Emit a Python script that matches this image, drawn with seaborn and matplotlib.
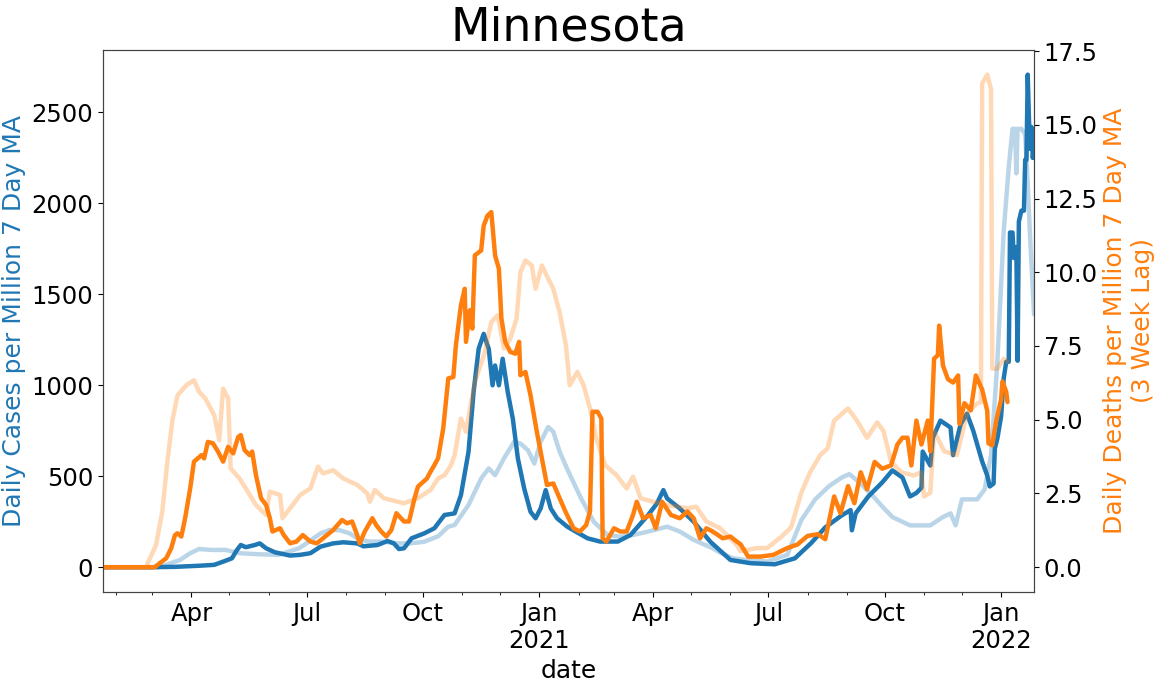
import numpy as np
import pandas as pd
import matplotlib
matplotlib.use("Agg")
import matplotlib.pyplot as plt
import matplotlib.dates as mdates
from matplotlib.ticker import FuncFormatter
import seaborn as sns

# ---------------- data ----------------
mn_case_dates = [
    "2020-01-22", "2020-02-28", "2020-03-19", "2020-04-07", "2020-04-19", "2020-04-27",
    "2020-05-03", "2020-05-07", "2020-05-10", "2020-05-14", "2020-05-21", "2020-05-25",
    "2020-05-30", "2020-06-06", "2020-06-18", "2020-06-26", "2020-07-04", "2020-07-12",
    "2020-07-22", "2020-07-30", "2020-08-10", "2020-08-15", "2020-08-26", "2020-09-03",
    "2020-09-08", "2020-09-12", "2020-09-16", "2020-09-22", "2020-10-02", "2020-10-10",
    "2020-10-18", "2020-10-26", "2020-10-31", "2020-11-06", "2020-11-10", "2020-11-14",
    "2020-11-18", "2020-11-22", "2020-11-25", "2020-11-27", "2020-11-30", "2020-12-03",
    "2020-12-07", "2020-12-11", "2020-12-15", "2020-12-20", "2020-12-25", "2020-12-29",
    "2021-01-02", "2021-01-06", "2021-01-10", "2021-01-15", "2021-01-23", "2021-02-08",
    "2021-02-18", "2021-03-04", "2021-03-14", "2021-03-28", "2021-04-04", "2021-04-09",
    "2021-04-12", "2021-04-22", "2021-05-03", "2021-05-16", "2021-06-01", "2021-06-17",
    "2021-07-06", "2021-07-22", "2021-08-04", "2021-08-15", "2021-08-28", "2021-09-04",
    "2021-09-05", "2021-09-08", "2021-09-18", "2021-09-29", "2021-10-07", "2021-10-15",
    "2021-10-21", "2021-10-26", "2021-10-30", "2021-10-31", "2021-11-06", "2021-11-08",
    "2021-11-14", "2021-11-22", "2021-11-24", "2021-11-30", "2021-12-05", "2021-12-10",
    "2021-12-17", "2021-12-21", "2021-12-23", "2021-12-26", "2021-12-27", "2021-12-29",
    "2022-01-01", "2022-01-03", "2022-01-05", "2022-01-07", "2022-01-08", "2022-01-10",
    "2022-01-11", "2022-01-13", "2022-01-14", "2022-01-15", "2022-01-17", "2022-01-19",
    "2022-01-20", "2022-01-21", "2022-01-22", "2022-01-23", "2022-01-24", "2022-01-25",
    "2022-01-26", "2022-01-27",
]
mn_cases = [
    0, 0, 2, 8, 13, 33,
    49, 95, 122, 110, 122, 131,
    104, 82, 64, 68, 77, 113,
    131, 137, 131, 115, 122, 144,
    131, 100, 104, 159, 186, 214,
    287, 296, 396, 634, 963, 1200,
    1283, 1200, 1000, 1109, 1000, 1146,
    963, 817, 598, 433, 305, 269,
    323, 424, 323, 269, 223, 159,
    141, 141, 177, 287, 351, 424,
    378, 323, 250, 141, 40, 22,
    16, 49, 134, 219, 285, 314,
    203, 296, 389, 466, 532, 493,
    389, 408, 437, 636, 559, 712,
    806, 768, 616, 787, 844, 749,
    581, 504, 444, 460, 652, 707,
    830, 1036, 1129, 1129, 1840, 1840,
    1700, 1760, 1135, 1900, 1960, 1960,
    2240, 2240, 2708, 2460, 2300, 2420,
    2250, 2300,
]

us_case_dates = [
    "2020-01-22", "2020-03-05", "2020-03-12", "2020-03-23", "2020-03-31", "2020-04-07",
    "2020-04-17", "2020-04-28", "2020-05-09", "2020-05-25", "2020-06-09", "2020-06-25",
    "2020-07-03", "2020-07-12", "2020-07-19", "2020-07-27", "2020-08-04", "2020-08-12",
    "2020-08-20", "2020-08-30", "2020-09-11", "2020-09-21", "2020-10-02", "2020-10-13",
    "2020-10-21", "2020-10-26", "2020-11-06", "2020-11-16", "2020-11-22", "2020-11-27",
    "2020-12-04", "2020-12-12", "2020-12-17", "2020-12-23", "2020-12-28", "2021-01-02",
    "2021-01-08", "2021-01-12", "2021-01-17", "2021-01-23", "2021-02-03", "2021-02-13",
    "2021-02-24", "2021-03-06", "2021-03-16", "2021-03-28", "2021-04-12", "2021-04-22",
    "2021-05-03", "2021-05-18", "2021-05-24", "2021-06-03", "2021-06-13", "2021-06-30",
    "2021-07-16", "2021-07-27", "2021-08-07", "2021-08-18", "2021-08-28", "2021-09-03",
    "2021-09-11", "2021-09-22", "2021-09-29", "2021-10-07", "2021-10-21", "2021-11-06",
    "2021-11-16", "2021-11-22", "2021-11-26", "2021-12-01", "2021-12-13", "2021-12-19",
    "2021-12-24", "2021-12-29", "2022-01-03", "2022-01-07", "2022-01-10", "2022-01-12",
    "2022-01-13", "2022-01-14", "2022-01-17", "2022-01-20", "2022-01-22", "2022-01-24",
    "2022-01-27",
]
us_cases = [
    0, 0, 13, 40, 77, 100,
    95, 95, 77, 71, 68, 104,
    141, 186, 204, 204, 186, 150,
    141, 141, 131, 131, 140, 170,
    223, 232, 342, 488, 543, 506,
    598, 689, 680, 643, 570, 689,
    771, 745, 636, 540, 378, 250,
    177, 168, 177, 196, 223, 196,
    150, 104, 80, 49, 40, 31,
    68, 258, 373, 446, 493, 512,
    466, 389, 334, 276, 230, 230,
    276, 296, 230, 373, 373, 428,
    616, 1127, 1845, 2200, 2410, 2410,
    2165, 2410, 2410, 2380, 2110, 1800,
    1390,
]

mn_death_dates = [
    "2020-01-22", "2020-03-03", "2020-03-07", "2020-03-12", "2020-03-16", "2020-03-19",
    "2020-03-21", "2020-03-24", "2020-03-27", "2020-03-31", "2020-04-03", "2020-04-06",
    "2020-04-09", "2020-04-11", "2020-04-14", "2020-04-18", "2020-04-22", "2020-04-26",
    "2020-04-30", "2020-05-04", "2020-05-08", "2020-05-10", "2020-05-13", "2020-05-17",
    "2020-05-19", "2020-05-22", "2020-05-26", "2020-05-30", "2020-06-02", "2020-06-04",
    "2020-06-10", "2020-06-13", "2020-06-18", "2020-06-23", "2020-06-28", "2020-07-04",
    "2020-07-09", "2020-07-14", "2020-07-22", "2020-07-29", "2020-08-02", "2020-08-06",
    "2020-08-10", "2020-08-12", "2020-08-16", "2020-08-22", "2020-08-25", "2020-08-29",
    "2020-09-02", "2020-09-06", "2020-09-10", "2020-09-16", "2020-09-20", "2020-09-24",
    "2020-09-27", "2020-09-30", "2020-10-04", "2020-10-07", "2020-10-10", "2020-10-13",
    "2020-10-17", "2020-10-21", "2020-10-25", "2020-10-27", "2020-10-31", "2020-11-03",
    "2020-11-04", "2020-11-07", "2020-11-09", "2020-11-11", "2020-11-16", "2020-11-18",
    "2020-11-21", "2020-11-24", "2020-11-27", "2020-11-30", "2020-12-02", "2020-12-05",
    "2020-12-09", "2020-12-13", "2020-12-16", "2020-12-17", "2020-12-21", "2020-12-25",
    "2020-12-30", "2021-01-04", "2021-01-07", "2021-01-12", "2021-01-17", "2021-01-22",
    "2021-01-28", "2021-02-02", "2021-02-07", "2021-02-10", "2021-02-12", "2021-02-16",
    "2021-02-19", "2021-02-20", "2021-02-23", "2021-03-01", "2021-03-06", "2021-03-11",
    "2021-03-16", "2021-03-19", "2021-03-24", "2021-03-30", "2021-04-03", "2021-04-08",
    "2021-04-15", "2021-04-22", "2021-04-28", "2021-05-03", "2021-05-08", "2021-05-13",
    "2021-05-18", "2021-05-26", "2021-06-01", "2021-06-06", "2021-06-09", "2021-06-15",
    "2021-06-25", "2021-07-05", "2021-07-16", "2021-07-24", "2021-08-01", "2021-08-09",
    "2021-08-15", "2021-08-22", "2021-08-27", "2021-09-02", "2021-09-07", "2021-09-12",
    "2021-09-17", "2021-09-23", "2021-09-29", "2021-10-06", "2021-10-11", "2021-10-15",
    "2021-10-19", "2021-10-22", "2021-10-26", "2021-10-30", "2021-11-04", "2021-11-06",
    "2021-11-09", "2021-11-12", "2021-11-13", "2021-11-16", "2021-11-20", "2021-11-24",
    "2021-11-28", "2021-11-29", "2021-12-03", "2021-12-08", "2021-12-12", "2021-12-17",
    "2021-12-21", "2021-12-22", "2021-12-25", "2021-12-28", "2022-01-01", "2022-01-02",
    "2022-01-05", "2022-01-06",
]
mn_deaths = [
    0, 0, 0.14, 0.30, 0.64, 1.09,
    1.15, 1.04, 1.66, 2.67, 3.58, 3.69,
    3.80, 3.69, 4.25, 4.20, 3.92, 3.58,
    4.08, 3.86, 4.42, 4.48, 3.97, 3.80,
    3.92, 3.12, 2.34, 2.11, 1.66, 1.21,
    1.32, 1.09, 0.81, 0.87, 1.09, 0.87,
    0.81, 0.98, 1.26, 1.60, 1.49, 1.55,
    1.09, 0.81, 1.21, 1.66, 1.43, 1.21,
    1.04, 1.26, 1.83, 1.55, 1.55, 2.28,
    2.73, 2.85, 3.00, 3.24, 3.46, 3.70,
    4.70, 6.40, 6.45, 7.52, 8.88, 9.44,
    7.64, 8.71, 8.09, 10.57, 10.74, 11.58,
    11.92, 12.04, 10.57, 10.12, 8.43, 7.64,
    7.30, 7.24, 7.64, 6.51, 6.62, 5.83,
    4.59, 3.46, 2.79, 2.84, 2.34, 1.85,
    1.32, 1.21, 1.43, 1.89, 5.27, 5.27,
    5.04, 0.98, 0.87, 1.32, 1.21, 1.21,
    1.77, 2.22, 1.66, 1.77, 1.32, 2.22,
    1.77, 1.66, 1.89, 1.66, 0.98, 1.32,
    1.21, 0.98, 1.04, 0.87, 0.78, 0.36,
    0.36, 0.42, 0.65, 0.77, 1.06, 1.12,
    0.95, 2.40, 1.83, 2.75, 2.17, 3.22,
    2.64, 3.57, 3.34, 3.45, 4.16, 4.39,
    4.39, 3.45, 4.97, 4.16, 4.97, 3.93,
    7.07, 7.19, 8.19, 6.84, 6.37, 6.26,
    6.50, 4.86, 5.56, 5.32, 6.50, 6.02,
    5.30, 4.20, 4.13, 4.94, 5.70, 6.30,
    5.95, 5.60,
]

us_death_dates = [
    "2020-01-22", "2020-02-25", "2020-03-04", "2020-03-09", "2020-03-13", "2020-03-17",
    "2020-03-21", "2020-03-28", "2020-04-03", "2020-04-07", "2020-04-12", "2020-04-19",
    "2020-04-23", "2020-04-26", "2020-04-30", "2020-05-02", "2020-05-09", "2020-05-14",
    "2020-05-22", "2020-05-30", "2020-06-02", "2020-06-10", "2020-06-12", "2020-06-18",
    "2020-06-26", "2020-07-04", "2020-07-10", "2020-07-14", "2020-07-22", "2020-07-30",
    "2020-08-10", "2020-08-18", "2020-08-20", "2020-08-24", "2020-08-31", "2020-09-11",
    "2020-09-16", "2020-09-27", "2020-10-07", "2020-10-13", "2020-10-18", "2020-10-23",
    "2020-10-26", "2020-10-31", "2020-11-04", "2020-11-11", "2020-11-19", "2020-11-24",
    "2020-11-29", "2020-12-04", "2020-12-09", "2020-12-14", "2020-12-17", "2020-12-21",
    "2020-12-26", "2020-12-29", "2021-01-03", "2021-01-08", "2021-01-12", "2021-01-17",
    "2021-01-22", "2021-01-25", "2021-01-31", "2021-02-05", "2021-02-10", "2021-02-15",
    "2021-02-22", "2021-03-03", "2021-03-11", "2021-03-16", "2021-03-22", "2021-04-01",
    "2021-04-12", "2021-04-28", "2021-05-05", "2021-05-13", "2021-05-24", "2021-06-06",
    "2021-06-09", "2021-06-22", "2021-06-30", "2021-07-11", "2021-07-19", "2021-07-27",
    "2021-08-03", "2021-08-11", "2021-08-17", "2021-08-22", "2021-09-02", "2021-09-09",
    "2021-09-17", "2021-09-25", "2021-09-30", "2021-10-06", "2021-10-14", "2021-10-24",
    "2021-10-30", "2021-11-01", "2021-11-06", "2021-11-09", "2021-11-17", "2021-11-27",
    "2021-12-05", "2021-12-13", "2021-12-16", "2021-12-17", "2021-12-21", "2021-12-24",
    "2021-12-25", "2021-12-29", "2022-01-03", "2022-01-06",
]
us_deaths = [
    0, 0, 0.75, 1.90, 3.60, 5.00,
    5.83, 6.17, 6.34, 5.95, 5.72, 5.15,
    4.31, 6.06, 5.72, 3.35, 3.01, 2.67,
    2.11, 1.77, 2.56, 2.45, 1.66, 2.00,
    2.45, 2.67, 3.41, 3.18, 3.29, 3.01,
    2.79, 2.50, 2.22, 2.62, 2.34, 2.22,
    2.17, 2.34, 2.62, 3.01, 3.12, 3.45,
    3.80, 5.04, 4.59, 6.28, 7.30, 8.31,
    8.54, 7.41, 7.75, 8.43, 10.00, 10.40,
    10.23, 9.44, 10.23, 9.78, 9.44, 8.65,
    7.52, 6.17, 6.62, 6.17, 5.38, 4.37,
    3.46, 3.12, 2.67, 3.07, 2.34, 2.22,
    2.11, 2.00, 2.05, 1.55, 1.32, 0.75,
    0.54, 0.65, 0.65, 1.02, 1.35, 2.52,
    3.22, 3.80, 4.04, 4.97, 5.38, 4.97,
    4.39, 4.91, 4.62, 3.57, 3.22, 3.11,
    3.22, 2.40, 2.52, 4.62, 3.93, 3.80,
    5.21, 5.55, 5.60, 16.40, 16.70, 16.20,
    6.73, 6.73, 7.07, 6.96,
]

title = "Minnesota"
left_label = "Daily Cases per Million 7 Day MA"
right_label = "Daily Deaths per Million 7 Day MA\n(3 Week Lag)"
x_label = "date"

# ---------------- plotting ----------------
sns.set_style("ticks")
plt.rcParams['font.family'] = ['DejaVu Sans']
plt.rcParams.update({
    "text.color": "black",
    "axes.labelcolor": "black",
    "xtick.color": "black",
    "ytick.color": "black",
    "axes.edgecolor": "#444444",
})

blue = "#1f77b4"
orange = "#ff7f0e"
LW = 3.2
FS_TICK = 17.5
FS_LABEL = 18

fig, ax = plt.subplots(figsize=(11.56, 6.85), dpi=100)
fig.subplots_adjust(left=0.089, right=0.8945, top=0.927, bottom=0.136)
ax2 = ax.twinx()

mcd = pd.to_datetime(mn_case_dates)
ucd = pd.to_datetime(us_case_dates)
mdd = pd.to_datetime(mn_death_dates)
udd = pd.to_datetime(us_death_dates)

sns.lineplot(x=mcd, y=mn_cases, ax=ax, color=blue, linewidth=LW, sort=False, estimator=None)
sns.lineplot(x=ucd, y=us_cases, ax=ax, color=blue, alpha=0.3, linewidth=LW, sort=False, estimator=None)
sns.lineplot(x=mdd, y=mn_deaths, ax=ax2, color=orange, linewidth=LW, sort=False, estimator=None)
sns.lineplot(x=udd, y=us_deaths, ax=ax2, color=orange, alpha=0.3, linewidth=LW, sort=False, estimator=None)

ax.set_xlim(min(mcd.min(), ucd.min()), max(mcd.max(), ucd.max()))

ax.xaxis.set_major_locator(mdates.MonthLocator(bymonth=[1, 4, 7, 10]))
ax.xaxis.set_minor_locator(mdates.MonthLocator())


def fmt(v, pos):
    d = mdates.num2date(v)
    if d.month == 1:
        return f"Jan\n{d.year}"
    return d.strftime("%b")


ax.xaxis.set_major_formatter(FuncFormatter(fmt))

ax.set_title(title, fontsize=33, color="black")
ax.set_xlabel(x_label, fontsize=FS_LABEL, color="black")
ax.set_ylabel(left_label, fontsize=FS_LABEL, color=blue)
ax2.set_ylabel(right_label, fontsize=FS_LABEL, color=orange)
ax.tick_params(axis='both', labelsize=FS_TICK, colors="black")
ax2.tick_params(axis='y', labelsize=FS_TICK, colors="black")

fig.savefig("out.png", dpi=100)
